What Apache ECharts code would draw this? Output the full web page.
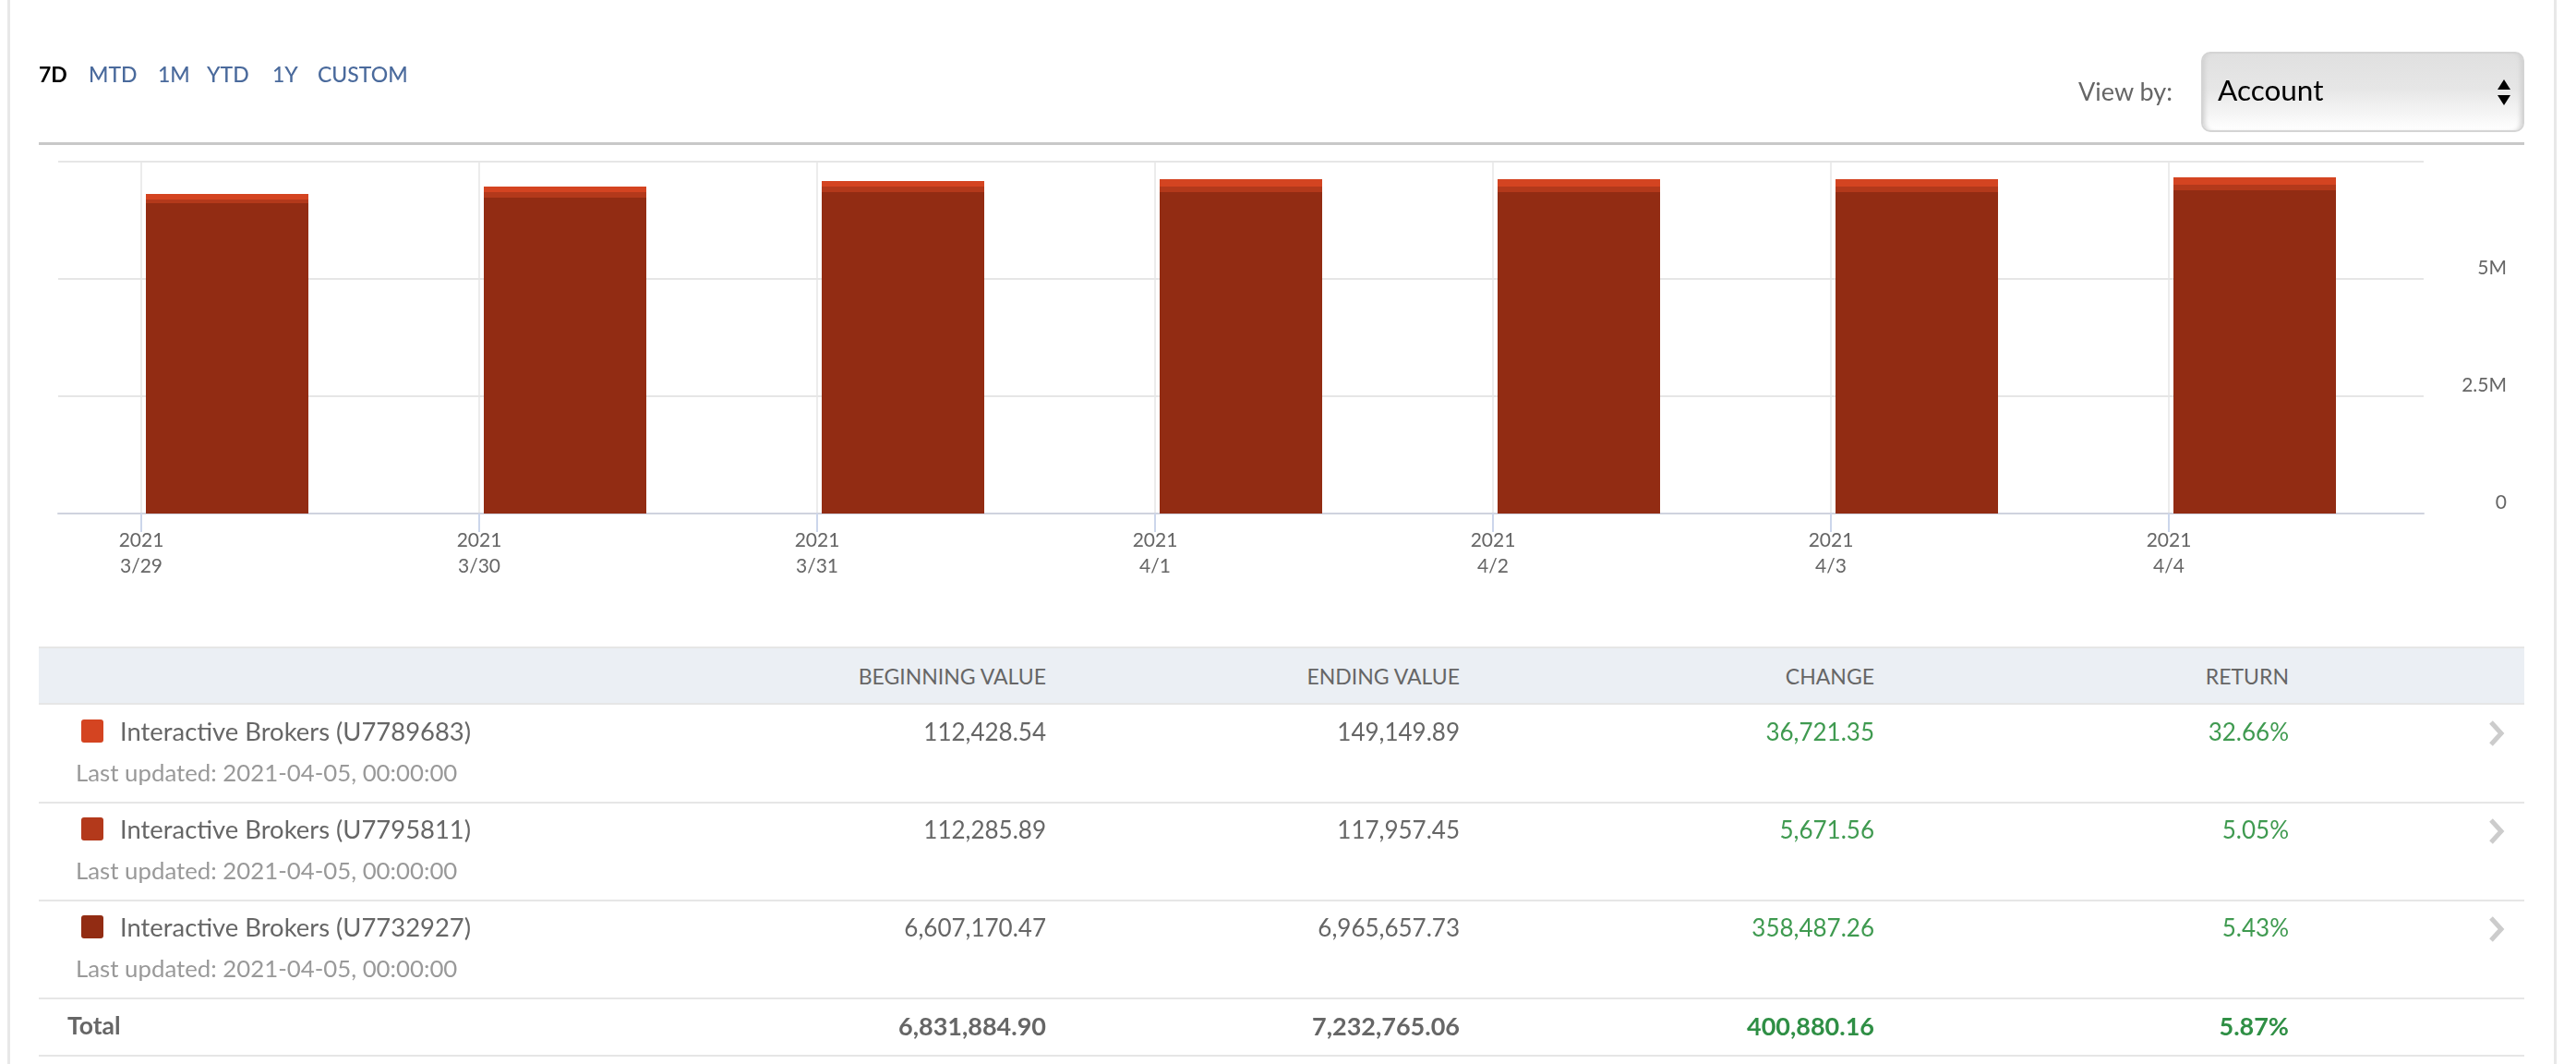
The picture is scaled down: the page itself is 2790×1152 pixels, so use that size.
<!DOCTYPE html>
<html>
<head>
<meta charset="utf-8">
<title>Account performance</title>
<script src="https://cdn.jsdelivr.net/npm/echarts@6/dist/echarts.min.js"></script>
<style>
html, body { margin: 0; padding: 0; background: #fff; }
body { width: 2790px; height: 1152px; position: relative; overflow: hidden; font-family: Lato, "Open Sans", sans-serif; color: #666; }
#chart-container { position: absolute; left: 0; top: 0; width: 2790px; height: 1152px; }
.t { position: absolute; white-space: nowrap; line-height: 1; transform: translateY(-50%); }
.r { transform: translate(-100%, -50%); }
.box { position: absolute; }
</style>
</head>
<body>
<div id="chart-container"></div>
<script>
// chart values
const dates = ["3/29", "3/30", "3/31", "4/1", "4/2", "4/3", "4/4"];
const year = "2021";
const account1 = [118000, 118000, 118000, 157000, 157000, 157000, 157000];
const account2 = [80000, 118000, 118000, 118000, 118000, 118000, 118000];
const account3 = [6614000, 6732000, 6850000, 6850000, 6850000, 6850000, 6890000];
const yTicks = { 0: "0", 2500000: "2.5M", 5000000: "5M", 7500000: "" };

// table
const tabs = ["7D", "MTD", "1M", "YTD", "1Y", "CUSTOM"];
const tabLeft = [42, 96, 171, 224, 295, 344];
const headers = ["BEGINNING VALUE", "ENDING VALUE", "CHANGE", "RETURN"];
const columnRight = [1133, 1581, 2030, 2479];
const accounts = ["Interactive Brokers (U7789683)", "Interactive Brokers (U7795811)", "Interactive Brokers (U7732927)"];
const colors = ["#d44421", "#b3391b", "#922c13"];
const lastUpdated = "Last updated: 2021-04-05, 00:00:00";
const beginning = ["112,428.54", "112,285.89", "6,607,170.47"];
const ending = ["149,149.89", "117,957.45", "6,965,657.73"];
const change = ["36,721.35", "5,671.56", "358,487.26"];
const returns = ["32.66%", "5.05%", "5.43%"];
const total = ["6,831,884.90", "7,232,765.06", "400,880.16", "5.87%"];
const rowLines = [869, 975, 1081, 1143];
const rowY = [792, 898, 1004];

function box(x, y, w, h, css) {
    let el = document.createElement("div");
    el.className = "box";
    el.style.cssText = `left:${x}px;top:${y}px;width:${w}px;height:${h}px;${css || ""}`;
    document.body.appendChild(el);
    return el;
}

function text(str, x, y, size, color, weight, right) {
    let el = document.createElement("div");
    el.className = right ? "t r" : "t";
    el.textContent = str;
    el.style.cssText = `left:${x}px;top:${y}px;font-size:${size}px;color:${color};font-weight:${weight || 400};`;
    document.body.appendChild(el);
    return el;
}

// page frame
box(8, 0, 3, 1152, "background:#e8e8e8");
box(2766, 0, 3, 1152, "background:#e8e8e8");

// top bar
tabs.forEach((t, i) => text(t, tabLeft[i], 80, 23, i === 0 ? "#000" : "#4a6a9c", i === 0 ? 700 : 500));
text("View by:", 2251, 98, 27, "#666");
box(2384, 56, 346, 83, "border:2px solid #d4d4d4;border-radius:10px;background:linear-gradient(#e0e0e0 0%,#e6e6e6 45%,#f8f8f8 85%,#fff 100%);box-shadow:inset 5px 0 5px -3px #d0d0d0,inset -5px 0 5px -3px #d0d0d0;");
text("Account", 2402, 98, 31.5, "#000");
box(2705, 86, 0, 0, "border-left:7px solid transparent;border-right:7px solid transparent;border-bottom:11px solid #000");
box(2705, 103, 0, 0, "border-left:7px solid transparent;border-right:7px solid transparent;border-top:11px solid #000");
box(42, 154, 2692, 3, "background:#c8c8c8");

// table header
box(42, 700, 2692, 63, "background:#ebeff4;border-top:2px solid #e6e6e6;border-bottom:2px solid #e6e6e6;box-sizing:border-box");
headers.forEach((h, i) => text(h, columnRight[i], 732, 23, "#666", 400, true));

// table rows
rowLines.forEach(y => box(42, y - 1, 2692, 2, "background:#e6e6e6"));
accounts.forEach((name, i) => {
    let y = rowY[i];
    box(88, y - 13, 24, 25, `background:${colors[i]};border-radius:3px`);
    text(name, 130, y, 27.4, "#666");
    text(lastUpdated, 82, y + 45, 25.8, "#999");
    text(beginning[i], columnRight[0], y, 26, "#666", 400, true);
    text(ending[i], columnRight[1], y, 26, "#666", 400, true);
    text(change[i], columnRight[2], y, 26, "#3f9a50", 400, true);
    text(returns[i], columnRight[3], y, 26, "#3f9a50", 400, true);
    box(2695, y - 12, 18, 28).innerHTML = '<svg width="18" height="28"><polyline points="3,2 14,14 3,26" fill="none" stroke="#ccc" stroke-width="5"/></svg>';
});
text("Total", 73, 1110, 26.5, "#666", 700);
total.forEach((v, i) => text(v, columnRight[i], 1110, 27, i < 2 ? "#666" : "#2f8f45", 700, true));

// chart
let myChart = echarts.init(document.getElementById("chart-container"), null, { renderer: "canvas" });
const barNames = accounts.slice().reverse();
const barValues = [account3, account2, account1];
const barColors = colors.slice().reverse();

let option = {
    animation: false,
    grid: { left: 63, right: 165, top: 175, bottom: 596 },
    xAxis: [{
        type: "category",
        data: dates,
        axisLine: { show: false },
        axisTick: { show: false },
        axisLabel: { show: false },
        splitLine: { show: false },
    }, {
        // ticks sit about a quarter of a band before each bar
        type: "value",
        position: "bottom",
        min: -0.246,
        max: 6.754,
        axisLine: { show: true, onZero: false, lineStyle: { color: "#cfd3de", width: 2 } },
        axisTick: {
            show: true,
            length: 20,
            customValues: dates.map((d, i) => i),
            lineStyle: { color: "#ccd6eb", width: 2 },
        },
        axisLabel: {
            customValues: dates.map((d, i) => i),
            formatter: v => year + "\n" + dates[v],
            color: "#666",
            fontFamily: "Lato",
            fontSize: 21,
            lineHeight: 28,
            margin: 15,
        },
        splitLine: { show: true, lineStyle: { color: "#e6e6e6", width: 1.5 } },
    }],
    yAxis: {
        type: "value",
        position: "right",
        min: 0,
        max: 7500000,
        interval: 2500000,
        axisLine: { show: false },
        axisTick: { show: false },
        axisLabel: {
            formatter: v => yTicks[v],
            color: "#666",
            fontFamily: "Lato",
            fontSize: 21,
            align: "right",
            verticalAlign: "bottom",
            lineHeight: 24,
            margin: 90,
        },
        splitLine: { show: true, lineStyle: { color: "#e6e6e6", width: 2 } },
    },
    series: barNames.map((name, i) => ({
        name: name,
        type: "bar",
        stack: "value",
        xAxisIndex: 0,
        data: barValues[i],
        barWidth: 176,
        itemStyle: { color: barColors[i] },
    })),
};

if (option && typeof option === "object") {
    myChart.setOption(option);
}

window.addEventListener("resize", myChart.resize);
</script>
</body>
</html>
